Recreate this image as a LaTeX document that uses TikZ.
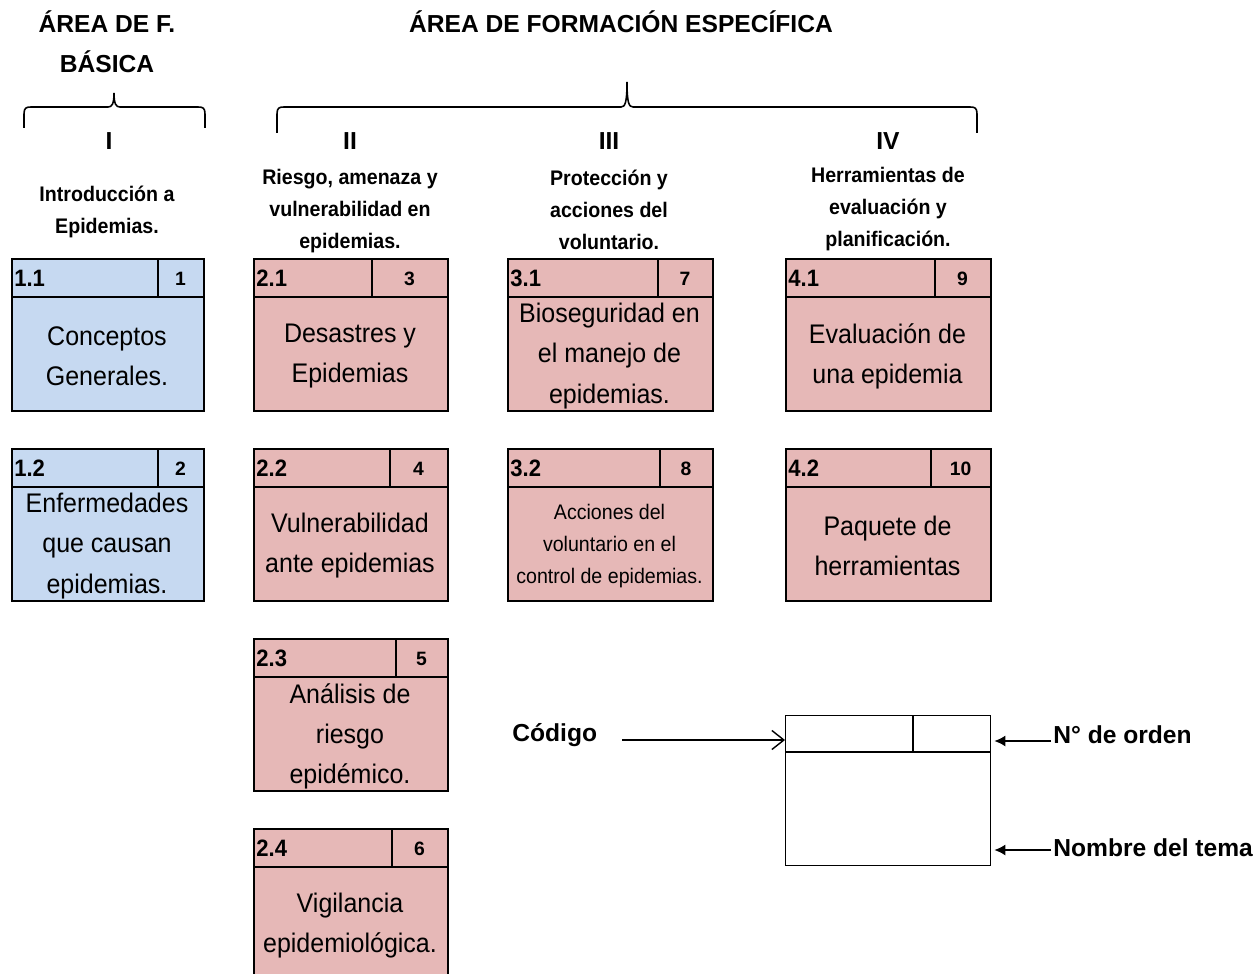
\documentclass[tikz,border=0pt]{standalone}
\usepackage{fontspec}
\setmainfont{Liberation Sans}
\newfontfamily\narrowfont[FakeStretch=0.93]{Liberation Sans}
\usepackage{xcolor}
\usepackage{tikz}
\usetikzlibrary{calc,arrows.meta}
\definecolor{basica}{HTML}{C6D9F1}
\definecolor{especifica}{HTML}{E6B8B7}

\begin{document}
\begin{tikzpicture}[x=0.02cm, y=-0.02cm,
    tema/.style={draw, line width=1pt, anchor=north west, minimum height=152*0.02cm, inner sep=0pt},
    titulo/.style={align=center, inner sep=0pt},
    codigo/.style={anchor=west, inner sep=0pt, font=\narrowfont\bfseries\fontsize{13.5}{16}\selectfont},
    orden/.style={inner sep=0pt, font=\bfseries\fontsize{11}{13}\selectfont},
    area/.style={align=center, font=\bfseries\fontsize{14}{22.8}\selectfont},
    romano/.style={font=\bfseries\fontsize{14}{16}\selectfont},
    unidad/.style={align=center, font=\narrowfont\bfseries\fontsize{12}{18.2}\selectfont},
    llave/.style={line width=0.9pt},
    leyenda/.style={anchor=west, inner sep=0pt, font=\bfseries\fontsize{14}{16}\selectfont}]

    \useasboundingbox (0,0) rectangle (1256,973);

    % Titles of the two areas
    \node[area] (AreaBasica) at (107,42) {ÁREA DE F.\\BÁSICA};
    \node[area] (AreaEspecifica) at (621,22) {ÁREA DE FORMACIÓN ESPECÍFICA};

    % Braces
    \draw[llave] (24,128) -- (24,114) .. controls (24,108) and (26,107) .. (31,107) -- (108,107)
        .. controls (112,107) and (114,104) .. (114,93) .. controls (114,104) and (116,107) .. (120,107)
        -- (198,107) .. controls (203,107) and (205,108) .. (205,114) -- (205,128);
    \draw[llave] (277,133) -- (277,114) .. controls (277,108) and (279,107) .. (284,107) -- (621,107)
        .. controls (625,107) and (627,103) .. (627,82) .. controls (627,103) and (629,107) .. (633,107)
        -- (970,107) .. controls (975,107) and (977,108) .. (977,114) -- (977,133);

    % Units
    \node[romano] (Unidad-1) at (109,141) {I};
    \node[romano] (Unidad-2) at (350,141) {II};
    \node[romano] (Unidad-3) at (609,141) {III};
    \node[romano] (Unidad-4) at (888,141) {IV};
    \node[unidad] (Nombre-1) at (107,212) {Introducción a\\Epidemias.};
    \node[unidad] (Nombre-2) at (350,211) {Riesgo, amenaza y\\vulnerabilidad en\\epidemias.};
    \node[unidad] (Nombre-3) at (609,210) {Protección y\\acciones del\\voluntario.};
    \node[unidad] (Nombre-4) at (888,209) {Herramientas de\\evaluación y\\planificación.};

    % Topic boxes
    \foreach \id/\px/\py/\w/\dv/\col/\code/\num/\fsz/\fbl/\txt in {
        11/11/258/192/158/basica/1.1/1/15.3/22.8/{Conceptos\\Generales.},
        12/11/448/192/158/basica/1.2/2/15.3/22.8/{Enfermedades\\que causan\\epidemias.},
        21/253/258/194/372/especifica/2.1/3/15.3/22.8/{Desastres y\\Epidemias},
        22/253/448/194/390/especifica/2.2/4/15.3/22.8/{Vulnerabilidad\\ante epidemias},
        23/253/638/194/396/especifica/2.3/5/15.3/22.8/{Análisis de\\riesgo\\epidémico.},
        24/253/828/194/392/especifica/2.4/6/15.3/22.8/{Vigilancia\\epidemiológica.},
        31/507/258/205/658/especifica/3.1/7/15.3/22.8/{Bioseguridad en\\el manejo de\\epidemias.},
        32/507/448/205/660/especifica/3.2/8/12/18.2/{Acciones del\\voluntario en el\\control de epidemias.},
        41/785/258/205/935/especifica/4.1/9/15.3/22.8/{Evaluación de\\una epidemia},
        42/785/448/205/931/especifica/4.2/10/15.3/22.8/{Paquete de\\herramientas}}
    {
        \node[tema, fill=\col, minimum width=\w*0.02cm] (Box-\id) at (\px,\py) {};
        \draw[line width=1pt] ($(Box-\id.north west)+(0,39)$) -- ($(Box-\id.north east)+(0,39)$);
        \draw[line width=1pt] (\dv,\py) -- (\dv,{\py+39});
        \node[codigo] (Cod-\id) at ({\px+3},{\py+20}) {\code};
        \node[orden] (Num-\id) at ({(\dv+\px+\w)/2},{\py+21}) {\num};
        \node[titulo, font=\narrowfont\fontsize{\fsz}{\fbl}\selectfont] (Tema-\id) at ({\px+\w/2},{\py+98}) {\txt};
    }

    % Legend
    \node[draw, line width=0.8pt, anchor=north west, minimum width=4.1cm, minimum height=3cm, inner sep=0pt] (Legend) at (785,715) {};
    \draw[line width=0.8pt] ($(Legend.north west)+(0,37)$) -- ($(Legend.north east)+(0,37)$);
    \draw[line width=0.8pt] ($(Legend.north west)+(128,0)$) -- ($(Legend.north west)+(128,37)$);
    \coordinate (LegendCode) at ($(Legend.north west)+(0,25)$);
    \coordinate (LegendOrden) at ($(Legend.north east)+(3,26)$);
    \coordinate (LegendTema) at ($(Legend.north east)+(3,135)$);

    \node[leyenda] (Codigo) at (512,735) {Código};
    \node[leyenda] (Orden) at (1053,735) {N° de orden};
    \node[leyenda] (NombreTema) at (1053,848) {Nombre del tema};
    \coordinate (CodeFrom) at ($(Codigo.east)+(25,5)$);

    \draw[-{Straight Barb[length=0.24cm,width=0.38cm]}, line width=0.8pt] (CodeFrom) -- (LegendCode);
    \draw[-{Latex[length=0.22cm,width=0.22cm]}, line width=0.8pt] ([xshift=-0.04cm]Orden.west |- LegendOrden) -- (LegendOrden);
    \draw[-{Latex[length=0.22cm,width=0.22cm]}, line width=0.8pt] ([xshift=-0.04cm]NombreTema.west |- LegendTema) -- (LegendTema);

\end{tikzpicture}
\end{document}
